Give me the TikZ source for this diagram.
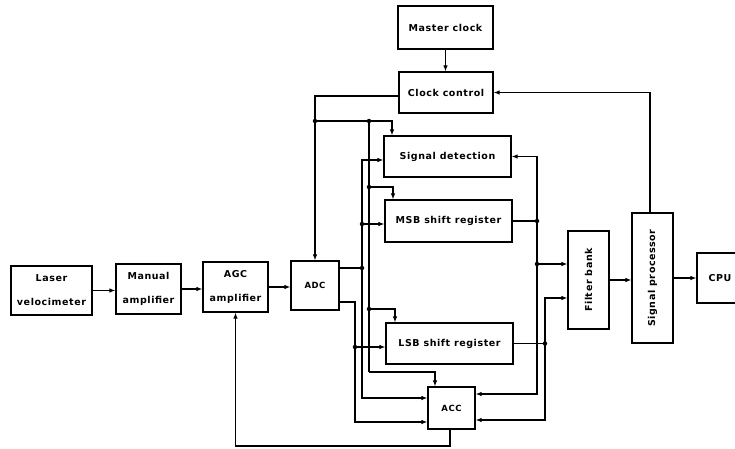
\documentclass[tikz,border=0pt]{standalone}
\usepackage{fontspec}
\newfontfamily\lblfont[LetterSpace=6]{DejaVu Sans}
\usetikzlibrary{arrows.meta}
\begin{document}
\begin{tikzpicture}[x=1pt,y=-1pt,
  box/.style={draw, line width=1.2pt, inner sep=0pt, align=center,
    font=\lblfont\bfseries\fontsize{9.5}{24}\selectfont},
  smallbox/.style={box, font=\lblfont\bfseries\fontsize{8.5}{10}\selectfont},
  vtext/.style={rotate=90, inner sep=0pt, font=\lblfont\bfseries\fontsize{9.5}{12}\selectfont},
  wire/.style={line width=1.1pt},
  arr/.style={wire, -{Latex[length=6pt,width=4.5pt]}},
  dot/.style={circle, fill, inner sep=0pt, minimum size=4.5pt}]
\useasboundingbox (0,0) rectangle (735,448);

% boxes
\node[box, minimum width=81pt, minimum height=49pt] (laser) at (51.5,290.5) {Laser\\velocimeter};
\node[box, minimum width=65pt, minimum height=50pt] (manual) at (148.5,289) {Manual\\amplifier};
\node[box, minimum width=65pt, minimum height=50pt] (agc) at (235.5,287) {AGC\\amplifier};
\node[smallbox, minimum width=48pt, minimum height=49pt] (adc) at (315,285.5) {ADC};
\node[box, minimum width=95pt, minimum height=43pt] (master) at (445.5,27.5) {Master clock};
\node[box, minimum width=94pt, minimum height=41pt] (clockctl) at (446,92.5) {Clock control};
\node[box, minimum width=127pt, minimum height=41pt] (sigdet) at (447.5,156.5) {Signal detection};
\node[box, minimum width=127pt, minimum height=42pt] (msb) at (448.5,221) {MSB shift register};
\node[box, minimum width=127pt, minimum height=41pt] (lsb) at (449.5,343.5) {LSB shift register};
\node[smallbox, minimum width=47pt, minimum height=42pt] (acc) at (451.5,408) {ACC};
\node[box, minimum width=41pt, minimum height=98pt] (filter) at (588.5,280) {};
\node[vtext] (filtertxt) at (filter) {Filter bank};
\node[box, minimum width=41pt, minimum height=130pt] (sigproc) at (652.5,278) {};
\node[vtext] (sigproctxt) at (sigproc) {Signal processor};
\node[box, minimum width=46pt, minimum height=50pt] (cpu) at (720,278) {CPU};

% junctions
\coordinate (j1) at (315,121);
\coordinate (j2) at (369,121);
\coordinate (j3) at (369,187);
\coordinate (j4) at (369,309);
\coordinate (jb) at (369,372);
\coordinate (k1) at (362,268);
\coordinate (k2) at (362,224);
\coordinate (k3) at (355,347);
\coordinate (r1) at (537,221);
\coordinate (r2) at (537,264);
\coordinate (r3) at (545,343.5);
\coordinate (bot) at (450,446);

% main chain
\draw[arr] (laser.east) -- (laser.east -| manual.west);
\draw[arr] (manual.east) -- (manual.east -| agc.west);
\draw[arr] (agc.east) -- (agc.east -| adc.west);
\draw[arr] (master.south) -- (master.south |- clockctl.north);

% clock distribution
\draw[arr] ([yshift=-3.5pt]clockctl.west) -| (adc.north);
\draw[wire] (j1) -- (j2) -- (jb);
\draw[arr] (j2) -| ([xshift=-55.5pt]sigdet.north);
\draw[arr] (j3) -| ([xshift=-55.5pt]msb.north);
\draw[arr] (j4) -| ([xshift=-54.5pt]lsb.north);
\draw[arr] (jb) -| ([xshift=-16.5pt]acc.north);

% ADC outputs
\draw[wire] ([yshift=17.5pt]adc.east) -- (k1);
\draw[arr] (k1) |- ([yshift=-3.5pt]sigdet.west);
\draw[arr] (k2) -- (k2 -| msb.west);
\draw[arr] (k1) |- ([yshift=10pt]acc.west);
\draw[arr] ([yshift=-16.5pt]adc.east) -| (k3) |- ([yshift=-14pt]acc.west);
\draw[arr] (k3) -- (k3 -| lsb.west);

% shift register outputs
\draw[wire] (msb.east) -- (r1);
\draw[arr] (r1) |- (sigdet.east);
\draw[arr] (r1) |- ([yshift=14pt]acc.east);
\draw[arr] (r2) -- (r2 -| filter.west);
\draw[wire] (lsb.east) -- (r3);
\draw[arr] (r3) |- ([yshift=-18pt]filter.west);
\draw[arr] (r3) |- ([yshift=-12pt]acc.east);

% right chain
\draw[arr] (filter.east) -- (filter.east -| sigproc.west);
\draw[arr] (sigproc.east) -- (sigproc.east -| cpu.west);
\draw[arr] ([xshift=-2.5pt]sigproc.north) |- (clockctl.east);

% ACC feedback
\draw[arr] ([xshift=-1.5pt]acc.south) -- (bot) -| (agc.south);

% dots
\foreach \p in {j1,j2,j3,j4,k1,k2,k3,r1,r2,r3}
  \node[dot] (d\p) at (\p) {};
\end{tikzpicture}
\end{document}
